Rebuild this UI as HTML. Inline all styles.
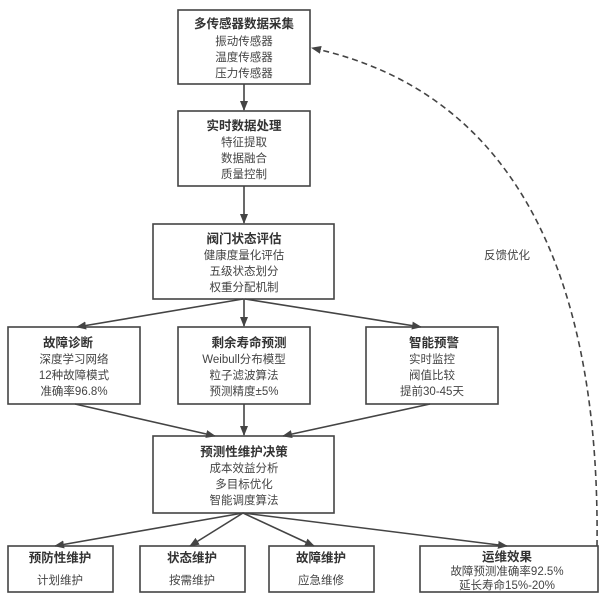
<!DOCTYPE html>
<html><head><meta charset="utf-8"><style>
body{margin:0;background:#fff;}
svg text{font-family:"Liberation Sans","Noto Sans CJK SC",sans-serif;fill:#444;text-anchor:middle;font-size:11.5px;}
svg text.t{font-weight:bold;fill:#333;font-size:12.5px;}
</style></head><body>
<svg width="600" height="594" viewBox="0 0 600 594" xmlns="http://www.w3.org/2000/svg">
<defs><marker id="a" markerWidth="10" markerHeight="8" refX="9" refY="4" orient="auto" markerUnits="userSpaceOnUse"><path d="M0,0 L10,4 L0,8 z" fill="#444"/></marker></defs>
<g fill="#fff" stroke="#444" stroke-width="1.6">
<rect x="178" y="10" width="132" height="74"/>
<rect x="178" y="111" width="132" height="75"/>
<rect x="153" y="224" width="181" height="75"/>
<rect x="8" y="327" width="132" height="77"/>
<rect x="178" y="327" width="132" height="77"/>
<rect x="366" y="327" width="132" height="77"/>
<rect x="153" y="436" width="181" height="77"/>
<rect x="8" y="546" width="105" height="46"/>
<rect x="140" y="546" width="105" height="46"/>
<rect x="269" y="546" width="105" height="46"/>
<rect x="420" y="546" width="178" height="46"/>
</g>
<g stroke="#444" stroke-width="1.6" fill="none" marker-end="url(#a)">
<line x1="244" y1="84" x2="244" y2="110"/>
<line x1="244" y1="186" x2="244" y2="223"/>
<line x1="243" y1="299" x2="77" y2="327"/>
<line x1="244" y1="299" x2="244" y2="326"/>
<line x1="245" y1="299" x2="421" y2="327"/>
<line x1="75" y1="404" x2="215" y2="436"/>
<line x1="244" y1="404" x2="244" y2="435"/>
<line x1="430" y1="404" x2="283" y2="436"/>
<line x1="243" y1="513" x2="55" y2="546"/>
<line x1="243" y1="513" x2="190" y2="546"/>
<line x1="243" y1="513" x2="314" y2="546"/>
<line x1="243" y1="513" x2="507" y2="546"/>
<path d="M597,546 C600,300 530,95 312,48" stroke-dasharray="6,4"/>
</g>
<text x="507" y="259">反馈优化</text>
<text class="t" x="244" y="28">多传感器数据采集</text>
<text x="244" y="45">振动传感器</text><text x="244" y="61">温度传感器</text><text x="244" y="77">压力传感器</text>
<text class="t" x="244" y="130">实时数据处理</text>
<text x="244" y="146">特征提取</text><text x="244" y="162">数据融合</text><text x="244" y="178">质量控制</text>
<text class="t" x="244" y="243">阀门状态评估</text>
<text x="244" y="259">健康度量化评估</text><text x="244" y="275">五级状态划分</text><text x="244" y="291">权重分配机制</text>
<text class="t" x="68" y="347">故障诊断</text>
<text x="74" y="363">深度学习网络</text><text x="74" y="379">12种故障模式</text><text x="74" y="395">准确率96.8%</text>
<text class="t" x="249" y="347">剩余寿命预测</text>
<text x="244" y="363">Weibull分布模型</text><text x="244" y="379">粒子滤波算法</text><text x="244" y="395">预测精度±5%</text>
<text class="t" x="434" y="347">智能预警</text>
<text x="432" y="363">实时监控</text><text x="432" y="379">阀值比较</text><text x="432" y="395">提前30-45天</text>
<text class="t" x="244" y="456">预测性维护决策</text>
<text x="244" y="472">成本效益分析</text><text x="244" y="488">多目标优化</text><text x="244" y="504">智能调度算法</text>
<text class="t" x="60" y="562">预防性维护</text><text x="60" y="584">计划维护</text>
<text class="t" x="192" y="562">状态维护</text><text x="192" y="584">按需维护</text>
<text class="t" x="321" y="562">故障维护</text><text x="321" y="584">应急维修</text>
<text class="t" x="507" y="561">运维效果</text>
<text x="507" y="575">故障预测准确率92.5%</text><text x="507" y="589">延长寿命15%-20%</text>
</svg>
</body></html>
